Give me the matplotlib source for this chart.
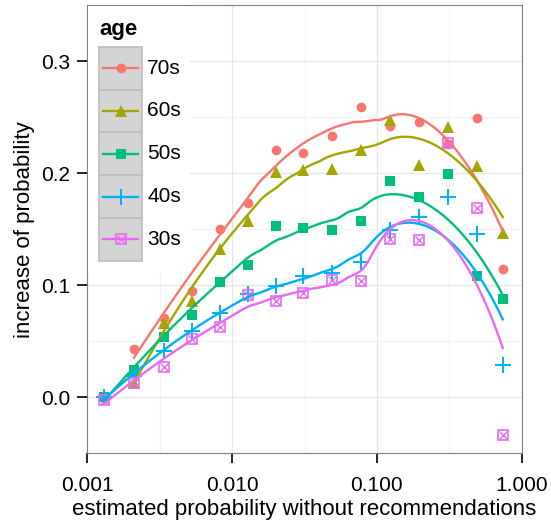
import numpy as np
import matplotlib
matplotlib.use("Agg")
import matplotlib.pyplot as plt
from matplotlib.patches import Rectangle
from matplotlib.lines import Line2D

plt.rcParams['font.family'] = ['Liberation Sans', 'DejaVu Sans']

# estimated probability without recommendations (x, log scale)
p_est = [0.0013, 0.0021, 0.0034, 0.0053, 0.0082, 0.0128, 0.020, 0.031,
         0.049, 0.078, 0.123, 0.195, 0.31, 0.49, 0.74]

ages = ['70s', '60s', '50s', '40s', '30s']
# increase of probability per age group (nan = no point)
inc_70s = [np.nan, 0.043, 0.071, 0.095, 0.150, 0.173, 0.221, 0.218, 0.233, 0.259, 0.242, 0.246, 0.226, 0.249, 0.114]
inc_60s = [np.nan, 0.013, 0.066, 0.086, 0.132, 0.157, 0.201, 0.203, 0.204, 0.221, 0.247, 0.207, 0.241, 0.206, 0.147]
inc_50s = [0.000, 0.024, 0.054, 0.073, 0.103, 0.118, 0.153, 0.151, 0.149, 0.157, 0.193, 0.179, 0.199, 0.108, 0.088]
inc_40s = [0.000, 0.019, 0.041, 0.059, 0.075, 0.092, 0.099, 0.108, 0.111, 0.121, 0.149, 0.161, 0.179, 0.146, 0.029]
inc_30s = [-0.002, 0.013, 0.027, 0.052, 0.063, 0.091, 0.086, 0.093, 0.105, 0.104, 0.141, 0.140, 0.227, 0.169, -0.034]

colors = ['#F8766D', '#A3A500', '#00BF7D', '#00B0F6', '#E76BF3']
series = [inc_70s, inc_60s, inc_50s, inc_40s, inc_30s]


def loess(x, y, xs, span=0.75):
    # local quadratic fit with tricube weights (like R's loess default)
    n = len(x)
    q = int(np.floor(n * span))
    out = []
    for x0 in xs:
        d = np.abs(x - x0)
        h = np.sort(d)[q - 1]
        w = np.clip(1 - (d / h) ** 3, 0, None) ** 3
        X = np.column_stack([np.ones(n), x - x0, (x - x0) ** 2])
        Wm = np.diag(w)
        beta = np.linalg.lstsq(X.T @ Wm @ X, X.T @ Wm @ y, rcond=None)[0]
        out.append(beta[0])
    return np.array(out)


# marker style per age group (ggplot shapes 16, 17, 15, 3, 7)
def marker_kws(i, col):
    if i == 0:
        return [dict(marker='o', color=col, ms=7, mew=0)]
    if i == 1:
        return [dict(marker='^', color=col, ms=8, mew=0)]
    if i == 2:
        return [dict(marker='s', color=col, ms=6.5, mew=0)]
    if i == 3:
        return [dict(marker='+', color=col, ms=11, mew=1.4)]
    return [dict(marker='s', mfc='none', mec=col, ms=7.5, mew=1.2),
            dict(marker='x', color=col, ms=5.5, mew=1.0)]


W, H = 551, 523
fig = plt.figure(figsize=(W / 100, H / 100), dpi=100)
L, R, T, B = 87.3, 521.7, 5, 453.3
ax = fig.add_axes([L / W, 1 - B / H, (R - L) / W, (B - T) / H])

ax.set_xscale('log')
ax.set_xlim(0.001, 1.0)
ax.set_ylim(-0.05, 0.35)

for v in [0.001, 0.01, 0.1, 1.0]:
    ax.axvline(v, color='#E6E6E6', lw=0.9, zorder=0)
for v in [10 ** -2.5, 10 ** -1.5, 10 ** -0.5]:
    ax.axvline(v, color='#F3F3F3', lw=0.9, zorder=0)
for v in [0.0, 0.1, 0.2, 0.3]:
    ax.axhline(v, color='#E6E6E6', lw=0.9, zorder=0)
for v in [0.05, 0.15, 0.25]:
    ax.axhline(v, color='#F3F3F3', lw=0.9, zorder=0)

px = np.array(p_est)
for i, (s, col) in enumerate(zip(series, colors)):
    yv = np.array(s)
    ok = ~np.isnan(yv)
    lx = np.log10(px[ok])
    xs = np.linspace(lx.min(), lx.max(), 120)
    ys = loess(lx, yv[ok], xs)
    for kw in marker_kws(i, col):
        ax.plot(px[ok], yv[ok], ls='none', zorder=3, **kw)
    ax.plot(10 ** xs, ys, color=col, lw=1.7, zorder=4)

ax.set_xticks([0.001, 0.01, 0.1, 1.0])
ax.set_xticklabels(['0.001', '0.010', '0.100', '1.000'])
ax.xaxis.set_minor_locator(matplotlib.ticker.NullLocator())
ax.set_yticks([0.0, 0.1, 0.2, 0.3])
ax.set_yticklabels(['0.0', '0.1', '0.2', '0.3'])
ax.tick_params(axis='both', which='major', length=7.5, width=1.2, color='black',
               labelsize=15, labelcolor='black')
ax.tick_params(axis='x', pad=8.5)
ax.tick_params(axis='y', pad=5)
for sp in ax.spines.values():
    sp.set_color('#7F7F7F')
    sp.set_linewidth(0.8)
ax.set_xlabel('estimated probability without recommendations', fontsize=16, labelpad=3)
ax.set_ylabel('increase of probability', fontsize=16, labelpad=4)


# legend drawn in the upper left corner of the panel (pixel coords)
def fx(x):
    return x / W


def fy(y):
    return 1 - y / H


tf = fig.transFigure
fig.patches.append(Rectangle((fx(L + 0.5), fy(272)), fx(190) - fx(L + 0.5), fy(5.5) - fy(272),
                             transform=tf, facecolor='white', edgecolor='none', zorder=5))
fig.text(fx(99), fy(29), 'age', fontsize=16, fontweight='bold', va='center', ha='left', zorder=6)
key = 42.8
for i, (a, col) in enumerate(zip(ages, colors)):
    top = 46.7 + i * key
    fig.patches.append(Rectangle((fx(99), fy(top + key)), fx(141.7) - fx(99), fy(top) - fy(top + key),
                                 transform=tf, facecolor='#D4D4D4', edgecolor='#BDBDBD', lw=1.2, zorder=6))
    cy = fy(top + key / 2)
    fig.lines.append(Line2D([fx(103.3), fx(137.7)], [cy, cy], transform=tf, color=col, lw=1.7, zorder=7))
    for kw in marker_kws(i, col):
        fig.lines.append(Line2D([fx(120.5)], [cy], transform=tf, ls='none', zorder=8, **kw))
    fig.text(fx(147), cy, a, fontsize=15, va='center', ha='left', zorder=8)

fig.savefig('out.png', dpi=100)
